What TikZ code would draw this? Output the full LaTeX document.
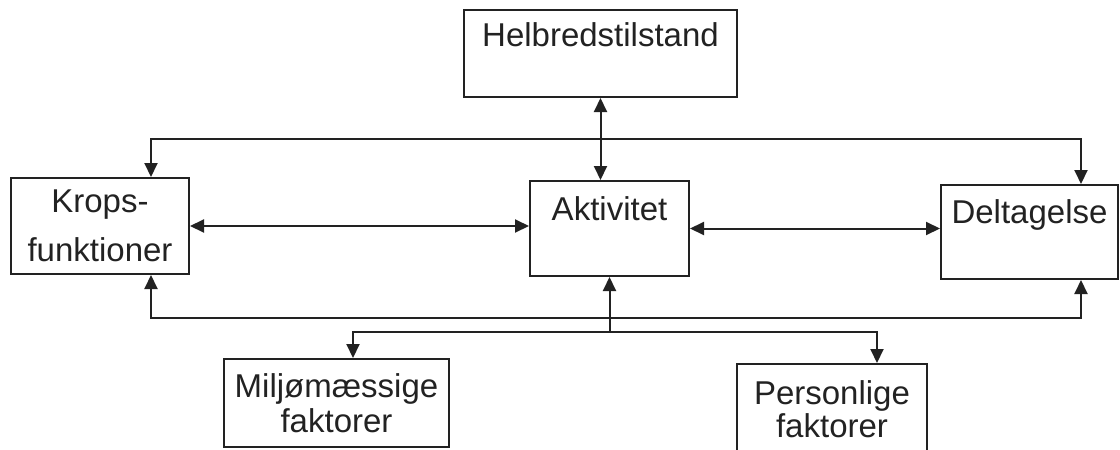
\documentclass[tikz,border=0pt]{standalone}
\usepackage{fontspec}
\setmainfont{Liberation Sans}
\usepackage{xcolor}
\usetikzlibrary{arrows.meta}

\definecolor{ink}{HTML}{222222}

\begin{document}
\begin{tikzpicture}[
  x=0.5pt, y=-0.5pt,
  box/.style={
    draw=ink, line width=1pt, rectangle, inner sep=0pt,
    text=ink, font=\fontsize{16.5}{20}\selectfont, align=center
  },
  topbox/.style 2 args={box, text height=#1, text depth=#2},
  arr/.style={{Triangle[length=7pt,width=6.5pt]}-{Triangle[length=7pt,width=6.5pt]}, line width=1pt, draw=ink},
  uparr/.style={-{Triangle[length=7pt,width=6.5pt]}, line width=1pt, draw=ink},
]
\useasboundingbox (0,0) rectangle (1120,450);

\node[topbox={18pt}{25.5pt}, minimum width=136.5pt] (hel)  at (600.5,53.5) {Helbredstilstand};
\node[box, minimum width=89pt, minimum height=48pt,
      font=\fontsize{16.5}{24.5}\selectfont] (krop) at (100,226) {Krops-\\funktioner};
\node[topbox={19.5pt}{28pt}, minimum width=79.5pt] (akt)  at (609.5,228.5) {Aktivitet};
\node[topbox={19pt}{28pt}, minimum width=88.5pt]   (del)  at (1029.5,232) {Deltagelse};
\node[box, minimum width=112.5pt, minimum height=44pt,
      font=\fontsize{16.5}{17.5}\selectfont] (milj) at (336.5,403) {Miljømæssige\\faktorer};
\node[box, minimum width=95pt, minimum height=45.5pt,
      font=\fontsize{16.5}{16.5}\selectfont] (pers) at (832,409.5) {Personlige\\faktorer};

\coordinate (tl) at (151,139);
\coordinate (tr) at (1081,139);
\coordinate (bl) at (151,318);
\coordinate (br) at (1081,318);
\coordinate (fork) at (609.5,332);
\coordinate (fl) at (353,332);
\coordinate (fr) at (877,332);

\draw[arr] (hel.south) -- (hel.south |- akt.north);
\draw[arr] (tl |- krop.north) -- (tl) -- (tr) -- (tr |- del.north);
\draw[arr] (bl |- krop.south) -- (bl) -- (br) -- (br |- del.south);
\draw[arr] (krop.east) -- (krop.east -| akt.west);
\draw[arr] (akt.east) -- (akt.east -| del.west);
\draw[uparr] (fork) -- (akt.south);
\draw[arr] (fl |- milj.north) -- (fl) -- (fr) -- (fr |- pers.north);

\end{tikzpicture}
\end{document}
